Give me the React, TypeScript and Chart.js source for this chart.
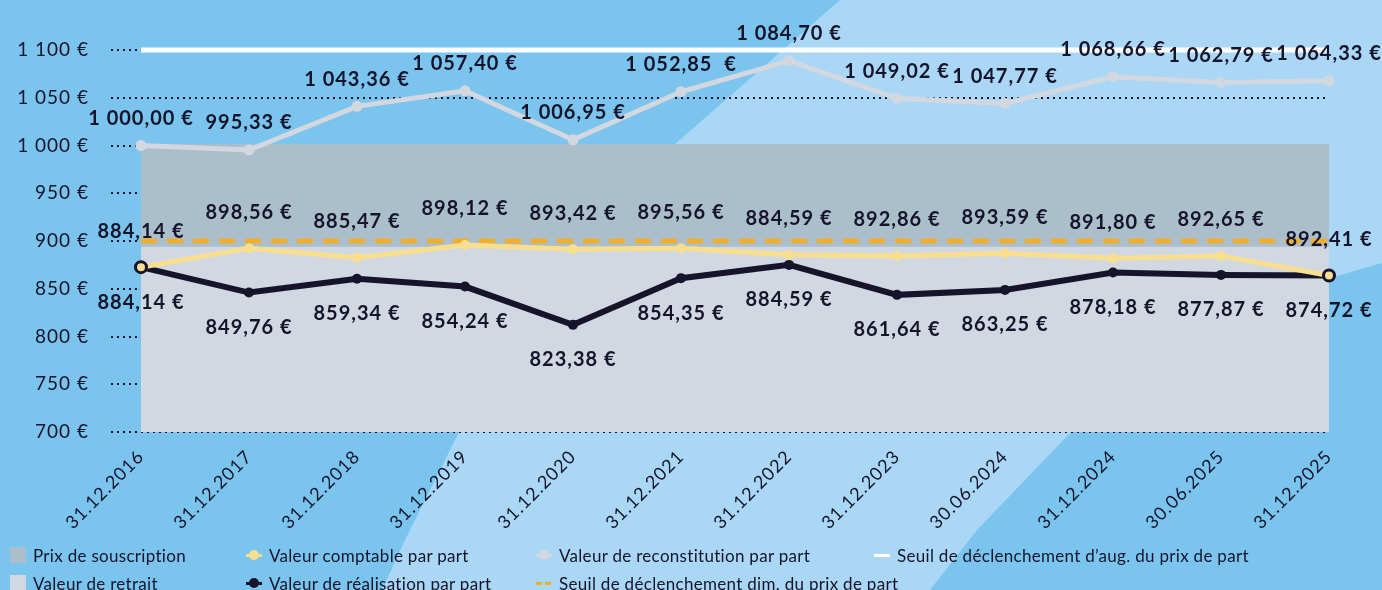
import React, { useEffect, useRef } from "react";
import { Chart, registerables } from "chart.js";

Chart.register(...registerables);

// ---------- DATA ----------
const categories = [
  "31.12.2016", "31.12.2017", "31.12.2018", "31.12.2019", "31.12.2020", "31.12.2021",
  "31.12.2022", "31.12.2023", "30.06.2024", "31.12.2024", "30.06.2025", "31.12.2025",
];

// plotted positions
const valeurReconstitution = [1000, 995.3, 1041, 1057.3, 1006, 1056.3, 1088.7, 1049.4, 1044, 1072, 1066, 1067.8];
const valeurComptable = [872.6, 892.5, 882.6, 895.9, 891.4, 892.5, 885.5, 884.4, 887.2, 882, 884.4, 863.8];
const valeurRealisation = [872.6, 846, 860.4, 852.3, 812.2, 861.1, 875, 843.6, 848.8, 867, 864.5, 863.8];

// printed value labels
const labelsReconstitution = [
  "1 000,00 €", "995,33 €", "1 043,36 €", "1 057,40 €", "1 006,95 €", "1 052,85  €",
  "1 084,70 €", "1 049,02 €", "1 047,77 €", "1 068,66 €", "1 062,79 €", "1 064,33 €",
];
const labelsComptable = [
  "884,14 €", "898,56 €", "885,47 €", "898,12 €", "893,42 €", "895,56 €",
  "884,59 €", "892,86 €", "893,59 €", "891,80 €", "892,65 €", "892,41 €",
];
const labelsRealisation = [
  "884,14 €", "849,76 €", "859,34 €", "854,24 €", "823,38 €", "854,35 €",
  "884,59 €", "861,64 €", "863,25 €", "878,18 €", "877,87 €", "874,72 €",
];

const prixSouscription = 1000;
const valeurRetrait = 894;
const seuilAugmentation = 1100;
const seuilDiminution = 900;

const yTickValues = [700, 750, 800, 850, 900, 950, 1000, 1050, 1100];
const yTickLabels = ["700 €", "750 €", "800 €", "850 €", "900 €", "950 €", "1 000 €", "1 050 €", "1 100 €"];

const seriesNames = {
  souscription: "Prix de souscription",
  retrait: "Valeur de retrait",
  comptable: "Valeur comptable par part",
  realisation: "Valeur de réalisation par part",
  reconstitution: "Valeur de reconstitution par part",
  seuilDim: "Seuil de déclenchement dim. du prix de part",
  seuilAug: "Seuil de déclenchement d’aug. du prix de part",
};

// ---------- STYLE ----------
const NAVY = "#15142b";
const BG_DARK = "#7bc4ee";
const BG_LIGHT = "#a9d7f5";
const GRAY_SOUS = "#abbecb";
const GRAY_RETRAIT = "#d1d8e2";
const GRAY_LINE = "#d2d7e0";
const YELLOW = "#f8df8f";
const ORANGE = "#efae2d";
const WHITE = "#ffffff";
const FONT = "Lato, 'Open Sans', sans-serif";

const backgroundPlugin = {
  id: "bgShapes",
  beforeDraw(chart: any) {
    const ctx = chart.ctx;
    const w = chart.width;
    const h = chart.height;
    ctx.save();
    ctx.fillStyle = BG_DARK;
    ctx.fillRect(0, 0, w, h);
    ctx.fillStyle = BG_LIGHT;
    ctx.beginPath();
    ctx.moveTo(840, 0);
    ctx.lineTo(w, 0);
    ctx.lineTo(w, 263);
    ctx.lineTo(1330, 278);
    ctx.lineTo(1200, 350);
    ctx.lineTo(1073, 430);
    ctx.lineTo(977, 530);
    ctx.lineTo(930, h);
    ctx.lineTo(382, h);
    ctx.lineTo(405, 540);
    ctx.lineTo(458, 434);
    ctx.lineTo(560, 290);
    ctx.lineTo(675, 144);
    ctx.closePath();
    ctx.fill();
    ctx.restore();
    (ctx as any).letterSpacing = "1px";
  },
};

const valueLabelPlugin = {
  id: "valueLabels",
  afterDatasetsDraw(chart: any) {
    const ctx = chart.ctx;
    const groups = [
      { idx: 2, labels: labelsReconstitution, dy: -27 },
      { idx: 0, labels: labelsComptable, dy: -36 },
      { idx: 1, labels: labelsRealisation, dy: 35 },
    ];
    ctx.save();
    (ctx as any).letterSpacing = "1px";
    ctx.font = `bold 20px ${FONT}`;
    ctx.fillStyle = NAVY;
    ctx.textAlign = "center";
    ctx.textBaseline = "middle";
    groups.forEach((g) => {
      const meta = chart.getDatasetMeta(g.idx);
      meta.data.forEach((pt: any, i: number) => {
        ctx.fillText(g.labels[i], pt.x, pt.y + g.dy);
      });
    });
    ctx.restore();
  },
};

const isEnd = (ctx: any) => ctx.dataIndex === 0 || ctx.dataIndex === categories.length - 1;

type LegendKind = "box" | "point" | "line" | "dash";
const legendItems: { label: string; kind: LegendKind; color: string; col: number; row: number }[] = [
  { label: seriesNames.souscription, kind: "box", color: GRAY_SOUS, col: 0, row: 0 },
  { label: seriesNames.retrait, kind: "box", color: GRAY_RETRAIT, col: 0, row: 1 },
  { label: seriesNames.comptable, kind: "point", color: YELLOW, col: 1, row: 0 },
  { label: seriesNames.realisation, kind: "point", color: NAVY, col: 1, row: 1 },
  { label: seriesNames.reconstitution, kind: "point", color: GRAY_LINE, col: 2, row: 0 },
  { label: seriesNames.seuilDim, kind: "dash", color: ORANGE, col: 2, row: 1 },
  { label: seriesNames.seuilAug, kind: "line", color: WHITE, col: 3, row: 0 },
];
const legendColX = [10, 246, 536, 874];
const legendRowY = [555, 583];

function Marker({ kind, color }: { kind: LegendKind; color: string }) {
  const base: React.CSSProperties = { position: "relative", width: 16, height: 16, display: "inline-block" };
  if (kind === "box") {
    return <span style={{ ...base, background: color }} />;
  }
  if (kind === "point") {
    return (
      <span style={base}>
        <span style={{ position: "absolute", left: 0, top: 6.5, width: 16, height: 3, background: color }} />
        <span style={{ position: "absolute", left: 3, top: 3, width: 10, height: 10, borderRadius: 5, background: color }} />
      </span>
    );
  }
  if (kind === "line") {
    return (
      <span style={base}>
        <span style={{ position: "absolute", left: 0, top: 6.5, width: 16, height: 3, background: color }} />
      </span>
    );
  }
  return (
    <span style={base}>
      <span style={{ position: "absolute", left: 0, top: 6.5, width: 6, height: 3, background: color }} />
      <span style={{ position: "absolute", left: 9, top: 6.5, width: 6, height: 3, background: color }} />
    </span>
  );
}

export default function App() {
  const canvasRef = useRef<HTMLCanvasElement | null>(null);

  useEffect(() => {
    if (!canvasRef.current) return;
    const chart = new Chart(canvasRef.current, {
      type: "line",
      data: {
        labels: categories,
        datasets: [
          {
            label: seriesNames.comptable,
            data: valeurComptable,
            borderColor: YELLOW,
            borderWidth: 5,
            tension: 0,
            pointRadius: (c: any) => (isEnd(c) ? 5.5 : 5),
            pointBackgroundColor: YELLOW,
            pointBorderColor: (c: any) => (isEnd(c) ? NAVY : YELLOW),
            pointBorderWidth: (c: any) => (isEnd(c) ? 3 : 0),
            fill: false,
            clip: false,
            order: 0,
          } as any,
          {
            label: seriesNames.realisation,
            data: valeurRealisation,
            borderColor: NAVY,
            borderWidth: 6,
            tension: 0,
            pointRadius: 5,
            pointBackgroundColor: NAVY,
            pointBorderWidth: 0,
            fill: false,
            clip: false,
            order: 1,
          },
          {
            label: seriesNames.reconstitution,
            data: valeurReconstitution,
            borderColor: GRAY_LINE,
            borderWidth: 5,
            tension: 0,
            pointRadius: 5.5,
            pointBackgroundColor: GRAY_LINE,
            pointBorderWidth: 0,
            fill: false,
            clip: false,
            order: 2,
          },
          {
            label: seriesNames.seuilDim,
            data: categories.map(() => seuilDiminution),
            borderColor: ORANGE,
            borderWidth: 5,
            borderDash: [16, 10],
            pointRadius: 0,
            fill: false,
            order: 3,
          },
          {
            label: seriesNames.seuilAug,
            data: categories.map(() => seuilAugmentation),
            borderColor: WHITE,
            borderWidth: 5,
            pointRadius: 0,
            fill: false,
            clip: false,
            order: 4,
          },
          {
            label: seriesNames.retrait,
            data: categories.map(() => valeurRetrait),
            borderColor: GRAY_RETRAIT,
            backgroundColor: GRAY_RETRAIT,
            borderWidth: 0,
            pointRadius: 0,
            fill: "start",
            order: 5,
          },
          {
            label: seriesNames.souscription,
            data: categories.map(() => prixSouscription),
            borderColor: GRAY_SOUS,
            backgroundColor: GRAY_SOUS,
            borderWidth: 3,
            pointRadius: 0,
            fill: "start",
            order: 6,
          },
        ],
      },
      options: {
        animation: false,
        responsive: true,
        maintainAspectRatio: false,
        layout: { padding: { top: 50, right: 53, bottom: 0, left: 0 } },
        plugins: { legend: { display: false }, tooltip: { enabled: false } },
        scales: {
          x: {
            offset: false,
            grid: { display: false, drawTicks: false },
            border: { display: false },
            ticks: {
              autoSkip: false,
              minRotation: 45,
              maxRotation: 45,
              padding: 14,
              color: NAVY,
              font: { family: FONT, size: 18 },
            },
            afterFit: (s: any) => {
              s.height = 158;
            },
          },
          y: {
            min: 700,
            max: 1100,
            border: { display: false, dash: [2, 4] },
            grid: {
              color: NAVY,
              lineWidth: 2,
              tickBorderDash: [2, 4],
              tickLength: 30,
              tickColor: NAVY,
              tickWidth: 2,
            } as any,
            ticks: {
              stepSize: 50,
              padding: 22,
              color: NAVY,
              font: { family: FONT, size: 19 },
              callback: (v: any) => {
                const i = yTickValues.indexOf(Number(v));
                return i >= 0 ? yTickLabels[i] : "";
              },
            },
            afterFit: (s: any) => {
              s.width = 141;
            },
          },
        },
      } as any,
      plugins: [backgroundPlugin, valueLabelPlugin],
    });
    return () => chart.destroy();
  }, []);

  return (
    <div style={{ position: "absolute", left: 0, top: 0, width: 1382, height: 590, overflow: "hidden" }}>
      <canvas ref={canvasRef} style={{ position: "absolute", left: 0, top: 0 }} />
      {legendItems.map((it, i) => (
        <div
          key={i}
          style={{
            position: "absolute",
            left: legendColX[it.col],
            top: legendRowY[it.row] - 10,
            height: 20,
            display: "flex",
            alignItems: "center",
            gap: 7,
            fontFamily: FONT,
            fontSize: 17,
            letterSpacing: "0.3px",
            color: NAVY,
            whiteSpace: "nowrap",
          }}
        >
          <Marker kind={it.kind} color={it.color} />
          <span>{it.label}</span>
        </div>
      ))}
    </div>
  );
}
